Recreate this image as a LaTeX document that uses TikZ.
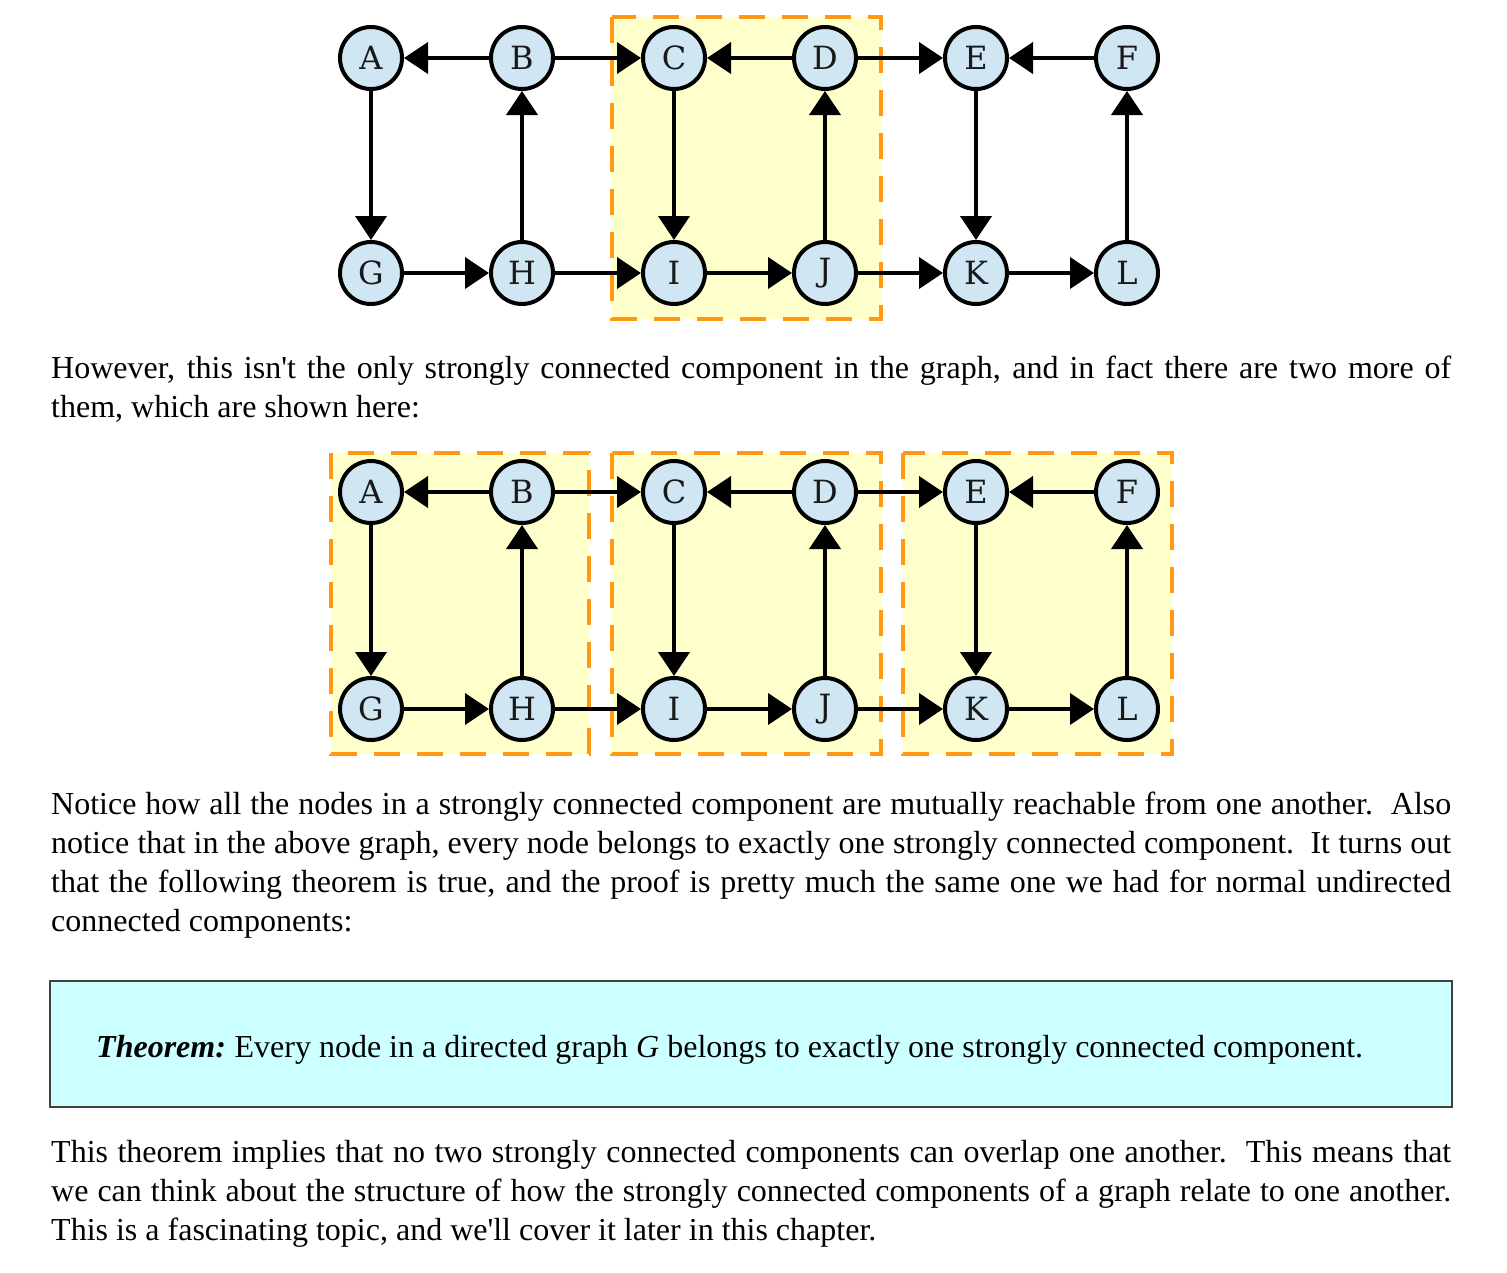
\documentclass[tikz,border=0pt]{standalone}
\usepackage{fontspec}
\setmainfont{Liberation Serif}
\newfontfamily\nodefont{DejaVu Serif}
\usetikzlibrary{arrows.meta}
\definecolor{nodeblue}{HTML}{D0E6F3}
\definecolor{sccfill}{HTML}{FFFFCC}
\definecolor{sccline}{HTML}{FF9914}
\definecolor{thmfill}{HTML}{CCFFFF}
\definecolor{thmline}{HTML}{404040}
\begin{document}
\begin{tikzpicture}[x=1pt,y=-1pt,
  vert/.style={circle, draw=black, line width=4pt, fill=nodeblue, minimum size=62pt, inner sep=0pt, text=black!90, font=\nodefont\fontsize{32}{32}\selectfont},
  edge/.style={line width=4pt, -{Triangle[length=24pt,width=31pt]}},
  scc/.style={draw=sccline, fill=sccfill, line width=3.5pt, dash pattern=on 26pt off 17pt},
  txt/.style={anchor=base west, inner sep=0pt, font=\fontsize{32}{39}\selectfont},
  thm/.style={draw=thmline, fill=thmfill, line width=1.5pt}]
\useasboundingbox (0,0) rectangle (1507,1272);
% highlighted components
\path[scc] (612,17) rectangle (881,319);
\path[scc] (331,453) rectangle (589,754);
\path[scc] (612,453) rectangle (881,754);
\path[scc] (903,453) rectangle (1172,754);
% top graph
\foreach \n/\x/\y in {A/371/58, B/522/58, C/674/58, D/825/58, E/976/58, F/1127/58,
                      G/371/273, H/522/273, I/674/273, J/825/273, K/976/273, L/1127/273}
  \node[vert] (t\n) at (\x,\y) {\n};
\foreach \s/\t in {B/A,B/C,D/C,D/E,F/E,A/G,H/B,C/I,J/D,E/K,L/F,G/H,H/I,I/J,J/K,K/L}
  \draw[edge] (t\s) -- (t\t);
% bottom graph
\foreach \n/\x/\y in {A/371/492, B/522/492, C/674/492, D/825/492, E/976/492, F/1127/492,
                      G/371/709, H/522/709, I/674/709, J/825/709, K/976/709, L/1127/709}
  \node[vert] (b\n) at (\x,\y) {\n};
\foreach \s/\t in {B/A,B/C,D/C,D/E,F/E,A/G,H/B,C/I,J/D,E/K,L/F,G/H,H/I,I/J,J/K,K/L}
  \draw[edge] (b\s) -- (b\t);
% paragraph 1
\node[txt] (p1a) at (51,378) {\makebox[1400pt][s]{However, this isn\textquotesingle t the only strongly connected component in the graph, and in fact there are two more of}};
\node[txt] (p1b) at (51,417) {them, which are shown here:};
% paragraph 2
\node[txt] (p2a) at (51,814) {\makebox[1400pt][s]{Notice how all the nodes in a strongly connected component are mutually reachable from one another.\ \ Also}};
\node[txt] (p2b) at (51,853) {\makebox[1400pt][s]{notice that in the above graph, every node belongs to exactly one strongly connected component.\ \ It turns out}};
\node[txt] (p2c) at (51,892) {\makebox[1400pt][s]{that the following theorem is true, and the proof is pretty much the same one we had for normal undirected}};
\node[txt] (p2d) at (51,931) {connected components:};
% theorem box
\path[thm] (50,981) rectangle (1452,1107);
\node[txt] (thmtext) at (96,1057) {\textbf{\textit{Theorem:}}\hspace{-2pt} Every node in a directed graph \textit{G} belongs to exactly one strongly connected component.};
% paragraph 3
\node[txt] (p3a) at (51,1162) {\makebox[1400pt][s]{This theorem implies that no two strongly connected components can overlap one another.\ \ This means that}};
\node[txt] (p3b) at (51,1201) {\makebox[1400pt][s]{we can think about the structure of how the strongly connected components of a graph relate to one another.}};
\node[txt] (p3c) at (51,1240) {This is a fascinating topic, and we\textquotesingle ll cover it later in this chapter.};
\end{tikzpicture}
\end{document}
